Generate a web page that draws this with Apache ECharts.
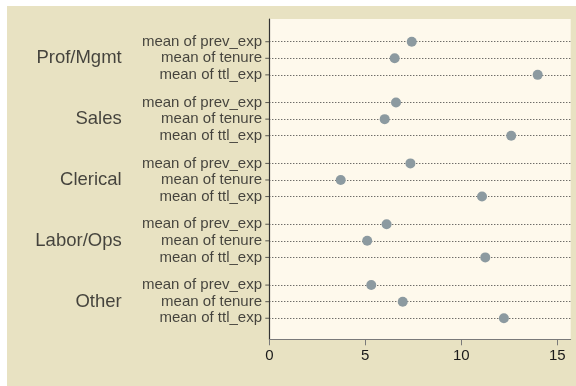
<!DOCTYPE html>
<html>
<head>
<meta charset="utf-8">
<script src="https://cdn.jsdelivr.net/npm/echarts@6/dist/echarts.min.js"></script>
<style>
html,body{margin:0;padding:0;background:#fff;width:576px;height:386px;overflow:hidden;}
#c{position:absolute;left:7px;top:6px;width:569px;height:380px;}
</style>
</head>
<body>
<div id="c"></div>
<script>
var groups = ['Prof/Mgmt', 'Sales', 'Clerical', 'Labor/Ops', 'Other'];
var measures = ['mean of prev_exp', 'mean of tenure', 'mean of ttl_exp'];
var prevExp = [7.42, 6.60, 7.35, 6.11, 5.31];
var tenure  = [6.53, 6.01, 3.72, 5.10, 6.95];
var ttlExp  = [13.98, 12.60, 11.08, 11.25, 12.22];
var xTicks = [0, 5, 10, 15];

var GAP = 0.67;
function rowPos(g, i) { return g * (3 + GAP) + i; }

var seriesVals = [prevExp, tenure, ttlExp];
var dots = [], subLabels = [], groupLabels = [], lines = [];
groups.forEach(function (g, gi) {
  measures.forEach(function (m, mi) {
    var p = rowPos(gi, mi);
    dots.push([seriesVals[mi][gi], p]);
    subLabels.push({ value: [0, p], name: m });
    lines.push({ yAxis: p });
  });
  groupLabels.push({ value: [0, rowPos(gi, 1)], name: g });
});

var chart = echarts.init(document.getElementById('c'), null, { renderer: 'canvas' });
var font = 'Liberation Sans, Arial, Helvetica, sans-serif';
chart.setOption({
  backgroundColor: '#E8E2C2',
  animation: false,
  grid: { left: 262.3, top: 13, right: 5.3, bottom: 46.7, show: true, backgroundColor: '#FEF9EC', borderWidth: 0 },
  xAxis: {
    type: 'value', min: 0, max: 15.7, interval: 5,
    axisLine: { show: true, onZero: false, lineStyle: { color: '#7a7a7a', width: 1 } },
    axisTick: { show: true, length: 6, lineStyle: { color: '#7a7a7a' }, customValues: xTicks },
    axisLabel: { color: '#1a1a1a', fontFamily: font, fontSize: 15, margin: 9, customValues: xTicks },
    splitLine: { show: false }
  },
  yAxis: {
    type: 'value', min: -1.37, max: 17.95, inverse: true,
    axisLine: { show: true, onZero: false, lineStyle: { color: '#333', width: 1.2 } },
    axisTick: { show: false }, axisLabel: { show: false }, splitLine: { show: false }
  },
  series: [
    {
      type: 'scatter', data: dots, symbol: 'circle', symbolSize: 10, z: 5,
      itemStyle: { color: '#8C9AA0', opacity: 1 },
      markLine: {
        silent: true, symbol: 'none', label: { show: false },
        lineStyle: { color: '#333', type: [1, 2], width: 1, opacity: 1 },
        data: lines
      }
    },
    {
      type: 'scatter', data: subLabels, symbol: 'rect', symbolSize: [4, 1], symbolOffset: [-2, 0],
      itemStyle: { color: '#333' }, silent: true, clip: false,
      label: { show: true, position: 'left', distance: 3.3, formatter: '{b}', color: '#1a1a1a', fontFamily: font, fontSize: 15 }
    },
    {
      type: 'scatter', data: groupLabels, symbol: 'circle', symbolSize: 0.01,
      itemStyle: { color: 'rgba(0,0,0,0)' }, silent: true, clip: false,
      label: { show: true, position: 'left', distance: 147.6, formatter: '{b}', color: '#1a1a1a', fontFamily: font, fontSize: 18.5 }
    }
  ]
});
</script>
</body>
</html>
